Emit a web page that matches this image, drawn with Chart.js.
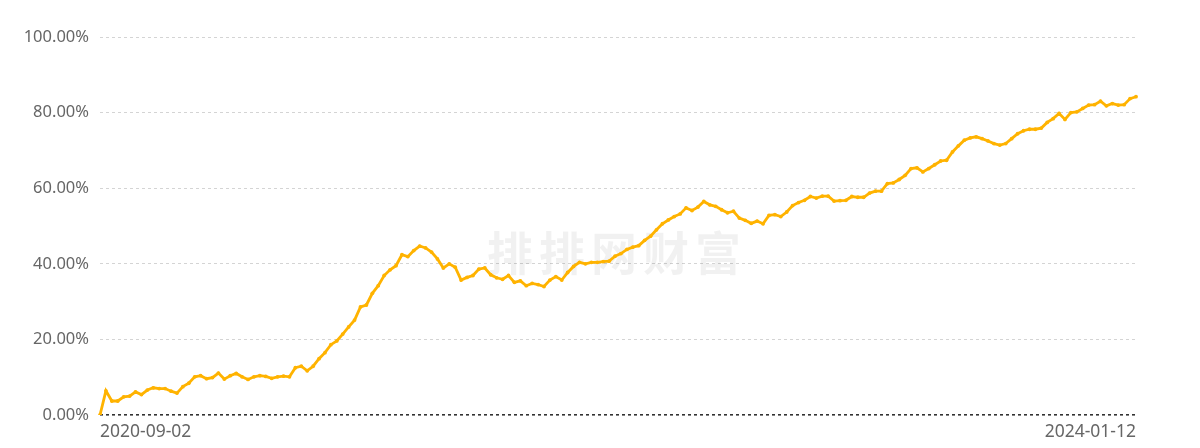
<!DOCTYPE html>
<html>
<head>
<meta charset="utf-8">
<script src="https://cdn.jsdelivr.net/npm/chart.js@4/dist/chart.umd.min.js"></script>
<style>
  html, body { margin: 0; padding: 0; background: #fff; }
  #wrap { width: 1200px; height: 448px; position: relative; }
</style>
</head>
<body>
<div id="wrap"><canvas id="chart"></canvas></div>
<script>
// Data: weekly cumulative return (%), 2020-09-02 .. 2024-01-12
const xTickLabels = ['2020-09-02', '2024-01-12'];
const returns = [
  0, 6.4, 3.7, 3.7, 4.8, 5.0, 6.1, 5.4, 6.6, 7.2,
  7.0, 7.0, 6.3, 5.8, 7.5, 8.4, 10.1, 10.4, 9.6, 9.9,
  11.1, 9.5, 10.4, 11.0, 10.1, 9.4, 10.1, 10.4, 10.2, 9.7,
  10.1, 10.3, 10.1, 12.5, 12.9, 11.7, 12.9, 14.9, 16.5, 18.6,
  19.6, 21.4, 23.3, 25.1, 28.6, 29.1, 32.2, 34.2, 36.9, 38.4,
  39.5, 42.4, 41.9, 43.5, 44.7, 44.2, 43.1, 41.3, 38.9, 40.0,
  39.1, 35.7, 36.4, 36.9, 38.6, 38.9, 37.1, 36.3, 35.9, 36.9,
  35.1, 35.5, 34.2, 34.8, 34.5, 34.0, 35.7, 36.6, 35.7, 37.7,
  39.3, 40.4, 40.0, 40.4, 40.4, 40.6, 40.7, 42.0, 42.7, 43.8,
  44.4, 44.8, 46.2, 47.3, 49.0, 50.6, 51.6, 52.5, 53.2, 54.8,
  54.1, 55.0, 56.5, 55.6, 55.2, 54.3, 53.5, 53.9, 52.1, 51.5,
  50.7, 51.3, 50.6, 52.8, 53.0, 52.5, 53.7, 55.4, 56.2, 56.8,
  57.8, 57.4, 57.9, 57.9, 56.6, 56.7, 56.8, 57.8, 57.6, 57.6,
  58.7, 59.2, 59.2, 61.2, 61.4, 62.3, 63.4, 65.2, 65.4, 64.3,
  65.2, 66.2, 67.2, 67.4, 69.6, 71.2, 72.7, 73.3, 73.6, 73.1,
  72.5, 71.8, 71.4, 71.8, 73.1, 74.4, 75.2, 75.6, 75.6, 75.9,
  77.4, 78.4, 79.8, 78.2, 80.0, 80.2, 81.1, 82.0, 82.1, 83.0,
  81.8, 82.4, 82.0, 82.1, 83.7, 84.2
];
const weeks = returns.map((_, i) => String(i));
const yTicks = [0, 20, 40, 60, 80, 100];

const LINE = '#ffb300';
const TEXT = '#666';
const FONT = '"Noto Sans", sans-serif';

// watermark behind the line
const watermark = {
  id: 'watermark',
  beforeDatasetsDraw(chart) {
    const {ctx, chartArea: a} = chart;
    ctx.save();
    ctx.font = 'bold 46px "Noto Sans CJK SC"';
    ctx.fillStyle = 'rgba(0,0,0,0.055)';
    ctx.textAlign = 'center';
    ctx.textBaseline = 'middle';
    ctx.letterSpacing = '6px';
    ctx.fillText('排排网财富', (a.left + a.right) / 2 - 1, 253);
    ctx.restore();
  }
};

new Chart(document.getElementById('chart'), {
  type: 'line',
  data: {
    labels: weeks,
    datasets: [{
      data: returns,
      borderColor: LINE,
      backgroundColor: LINE,
      borderWidth: 2.8,
      pointRadius: 1.9,
      pointHoverRadius: 3,
      pointBorderWidth: 0,
      tension: 0,
      fill: false,
    }]
  },
  options: {
    responsive: true,
    maintainAspectRatio: false,
    animation: false,
    layout: {padding: {top: 37, right: 64, bottom: 0, left: 0}},
    plugins: {legend: {display: false}, tooltip: {enabled: false}},
    scales: {
      x: {
        type: 'category',
        offset: false,
        grid: {display: false, drawTicks: false},
        border: {display: false},
        ticks: {
          autoSkip: false,
          maxRotation: 0,
          align: 'inner',
          padding: 7,
          color: TEXT,
          font: {family: FONT, size: 17.5},
          callback: (v, i, t) => i === 0 ? xTickLabels[0] : i === t.length - 1 ? xTickLabels[1] : null,
        },
        afterFit: s => { s.height = 33; },
      },
      y: {
        min: 0,
        max: 100,
        afterBuildTicks: s => { s.ticks = yTicks.map(v => ({value: v})); },
        grid: {
          drawTicks: false,
          color: c => c.tick.value === 0 ? '#333' : '#d4d4d4',
          lineWidth: c => c.tick.value === 0 ? 1.6 : 1,
        },
        border: {display: false, dash: [3, 3]},
        ticks: {
          padding: 11,
          color: TEXT,
          font: {family: FONT, size: 16.5},
          callback: v => v.toFixed(2) + '%',
        },
        afterFit: s => { s.width = 100; },
      }
    }
  },
  plugins: [watermark]
});
</script>
</body>
</html>
